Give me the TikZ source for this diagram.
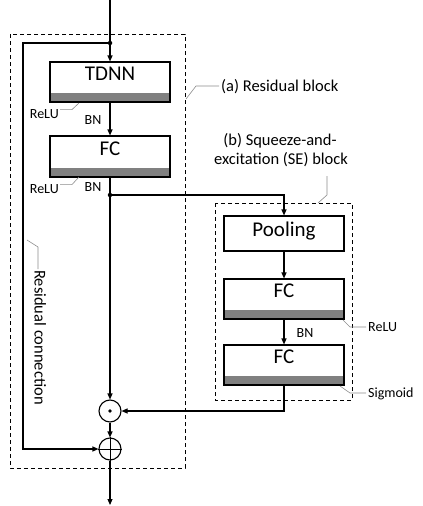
\documentclass[tikz,border=0pt]{standalone}
\usepackage{fontspec}
\setmainfont{Carlito}
\usetikzlibrary{arrows.meta,calc}
\definecolor{bandgray}{HTML}{808080}
\definecolor{leadgray}{HTML}{8C8C8C}
\newcommand\upby[1]{\raisebox{4.5pt}[\height][\depth]{#1}}
\begin{document}
\begin{tikzpicture}[x=1pt,y=-1pt,
  wire/.style={line width=1.1pt},
  arr/.style={wire,-{Triangle[length=6pt,width=5pt]}},
  blkplain/.style={draw,line width=1.1pt,minimum width=120pt,minimum height=40pt,inner sep=0pt,
    font=\fontsize{21}{24}\selectfont,text height=0.65em,text depth=0pt},
  blk/.style={blkplain,path picture={\fill[bandgray] ([yshift=9pt]path picture bounding box.south west) rectangle (path picture bounding box.south east);}},
  jdot/.style={circle,fill,inner sep=0pt,minimum size=4.5pt},
  opnode/.style={circle,draw,line width=1.1pt,minimum size=22pt,inner sep=0pt},
  dashbox/.style={line width=0.9pt,dash pattern=on 4pt off 3pt},
  lead/.style={draw=leadgray,line width=0.6pt},
  smalllab/.style={font=\fontsize{14}{16}\selectfont,inner sep=0pt},
  biglab/.style={font=\fontsize{16.5}{19}\selectfont,inner sep=0pt}]
\useasboundingbox (0,0) rectangle (423,506);
% dashed blocks
\draw[dashbox] (10,34) rectangle (185,468);
\draw[dashbox] (215,203) rectangle (352,400);
% main column
\node[blk] (tdnn) at (110,82) {\upby{TDNN}};
\node[blk,minimum height=41pt] (fca) at (110,156.5) {\upby{FC}};
\node[blkplain,minimum height=35pt] (pool) at (284,233.5) {Pooling};
\node[blk] (fcb) at (284,299) {\upby{FC}};
\node[blk] (fcc) at (284,365) {\upby{FC}};
\node[opnode] (odot) at (110,411) {};
\fill (odot.center) circle (1.8pt);
\node[opnode] (oplus) at (110,449) {};
\draw[line width=0.6pt] (oplus.north) -- (oplus.south) (oplus.west) -- (oplus.east);
\node[jdot] (d1) at (110,43) {};
\node[jdot] (d2) at (110,195) {};
\coordinate (in) at (110,0);
\coordinate (out) at (110,505);
\coordinate (rl) at (23,43);
% connectors
\draw[arr] (in) -- (tdnn.north);
\draw[arr] (d1.center) -- (rl) |- (oplus.west);
\draw[arr] (tdnn.south) -- (fca.north);
\draw[arr] (fca.south) -- (odot.north);
\draw[arr] (d2.center) -| (pool.north);
\draw[arr] (pool.south) -- (fcb.north);
\draw[arr] (fcb.south) -- (fcc.north);
\draw[arr] (fcc.south) |- (odot.east);
\draw[arr] (odot.south) -- (oplus.north);
\draw[arr] (oplus.south) -- (out);
% labels
\node[smalllab,anchor=base east] (relua) at (59,118.5) {ReLU};
\draw[lead] (relua.east) ++(1,-4.5) -- ++(12,0) -- (79,103);
\node[smalllab,anchor=base] (bna) at (93,124.5) {BN};
\node[smalllab,anchor=base east] (relub) at (59,193.5) {ReLU};
\draw[lead] (relub.east) ++(1,-4.5) -- ++(12,0) -- (79,177);
\node[smalllab,anchor=base] (bnb) at (93,191) {BN};
\node[smalllab,anchor=base] (bnc) at (305,337.5) {BN};
\node[smalllab,anchor=base west] (reluc) at (368,331.5) {ReLU};
\draw[lead] (343,320) -- (350,327) -- (366,327);
\node[smalllab,anchor=base west] (sigm) at (368,397.5) {Sigmoid};
\draw[lead] (340,386) -- (350,393) -- (366,393);
\node[biglab,anchor=base west] (resb) at (221,91) {(a) Residual block};
\draw[lead] (186,99) -- (196,86) -- (219,86);
\node[biglab,anchor=base] (sea) at (280,145) {(b) Squeeze-and-};
\node[biglab,anchor=base] (seb) at (281,164) {excitation (SE) block};
\draw[lead] (327,176) -- (327,195) -- (318,203);
\node[biglab,anchor=base west,rotate=-90] (resc) at (34.5,270) {Residual connection};
\draw[lead] (27,240) -- (38,247) -- (38,269);
\end{tikzpicture}
\end{document}
